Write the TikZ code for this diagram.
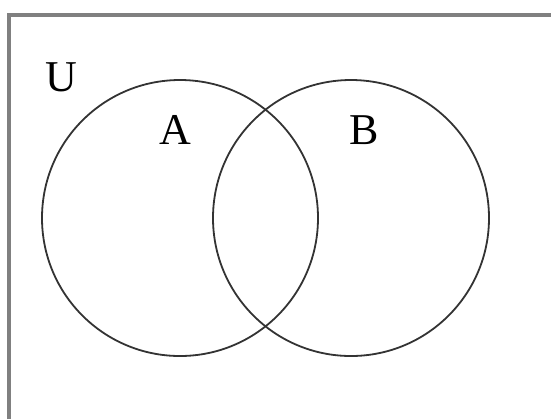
\documentclass[tikz,border=0pt]{standalone}
\usepackage{fontspec}
\setmainfont{Liberation Serif}
\usetikzlibrary{calc}

\begin{document}
\begin{tikzpicture}[x=0.5pt,y=-0.5pt,
    setcirc/.style={circle,draw=black!80,line width=0.9pt,minimum size=138pt,inner sep=0pt},
    setlbl/.style={font=\fontsize{22}{24}\selectfont}]
  \useasboundingbox (0,0) rectangle (551,419);
  % universe frame, only top and left edges visible
  \draw[black!50,line width=2pt] (9,419) -- (9,15) -- (551,15);
  \node[setcirc] (setA) at (180,218) {};
  \node[setcirc] (setB) at (351,218) {};
  \node[setlbl] (U) at (61,77) {U};
  \node[setlbl] (A) at (175,130) {A};
  \node[setlbl] (B) at (364,130) {B};
\end{tikzpicture}
\end{document}
